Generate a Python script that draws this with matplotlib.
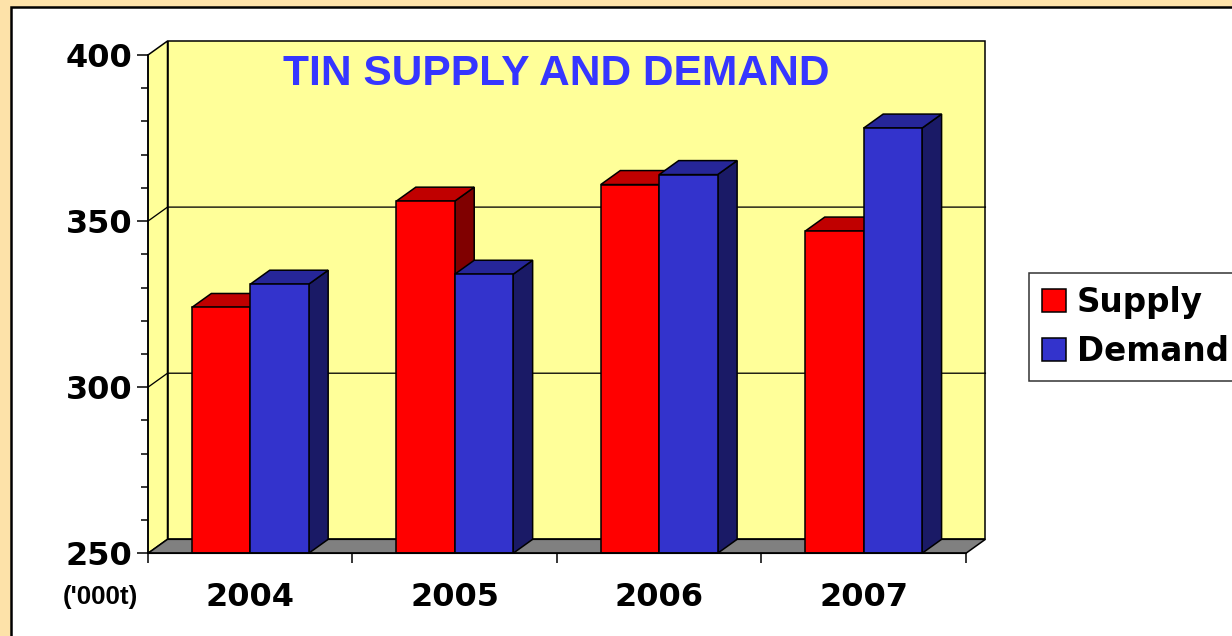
import matplotlib
matplotlib.use("Agg")
import matplotlib.pyplot as plt
from matplotlib.patches import Polygon, Rectangle, Patch
from matplotlib.ticker import FixedLocator, NullFormatter

# Data ('000 tonnes)
years = ["2004", "2005", "2006", "2007"]
supply = [324, 356, 361, 347]
demand = [331, 334, 364, 378]
y_ticks = [250, 300, 350, 400]
grid_values = [300, 350]

# Styling
W, H, DPI = 1232, 636, 100
BG_OUTER = "#FDE2A9"
WALL = "#FFFF99"
FLOOR = "#808080"
series_colors = {
    "Supply": ("#FF0000", "#C00000", "#800000"),
    "Demand": ("#3333CC", "#262699", "#1A1A66"),
}
YMIN, YMAX = 250, 400
DX = 0.0954          # depth offset along x (category units)
DY = 4.21            # depth offset along y (value units)
BAR_W = 1 / 3.5      # Excel-style 150% gap width
EDGE_LW = 1.1

fig = plt.figure(figsize=(W / DPI, H / DPI), dpi=DPI, facecolor=BG_OUTER)

# White chart panel with black border
fig.patches.append(Rectangle((11.3 / W, -0.05), 1.2, 1 - 6.5 / H + 0.05,
                             transform=fig.transFigure, facecolor="white",
                             edgecolor="black", linewidth=1.8, zorder=-10))

n = len(years)
ax = fig.add_axes([148 / W, (H - 553.3) / H, 837.4 / W, 512.3 / H])
ax.set_zorder(1)
ax.set_facecolor("none")
ax.set_xlim(0, n + DX)
ax.set_ylim(YMIN, YMAX + DY)


def face(points, color, z):
    ax.add_patch(Polygon(points, closed=True, facecolor=color, edgecolor="black",
                         lw=EDGE_LW, zorder=z, clip_on=False, joinstyle="miter"))


# Walls and floor
face([(DX, YMIN + DY), (n + DX, YMIN + DY), (n + DX, YMAX + DY), (DX, YMAX + DY)], WALL, 1)
face([(0, YMIN), (DX, YMIN + DY), (DX, YMAX + DY), (0, YMAX)], WALL, 1)
face([(0, YMIN), (n, YMIN), (n + DX, YMIN + DY), (DX, YMIN + DY)], FLOOR, 1.5)

# Gridlines on the back wall and side wall
for g in grid_values:
    ax.plot([0, DX, n + DX], [g, g + DY, g + DY], color="black", lw=EDGE_LW * 0.85,
            zorder=1.2, clip_on=False)


def bar3d(x0, value, colors, z):
    front, top, side = colors
    face([(x0 + BAR_W, YMIN), (x0 + BAR_W + DX, YMIN + DY),
          (x0 + BAR_W + DX, value + DY), (x0 + BAR_W, value)], side, z)
    face([(x0, value), (x0 + BAR_W, value),
          (x0 + BAR_W + DX, value + DY), (x0 + DX, value + DY)], top, z)
    ax.bar([x0], [value - YMIN], bottom=YMIN, width=BAR_W, align="edge",
           color=front, edgecolor="black", linewidth=EDGE_LW, zorder=z + 0.1)


z = 2
for i in range(n):
    x_s = i + 0.75 * BAR_W
    bar3d(x_s, supply[i], series_colors["Supply"], z)
    z += 0.2
    bar3d(x_s + BAR_W, demand[i], series_colors["Demand"], z)
    z += 0.2

# Axes: left value axis and bottom category axis
for s in ("top", "right"):
    ax.spines[s].set_visible(False)
ax.spines["left"].set_bounds(YMIN, YMAX)
ax.spines["bottom"].set_bounds(0, n)
for s in ("left", "bottom"):
    ax.spines[s].set_linewidth(EDGE_LW)
    ax.spines[s].set_zorder(10)

ax.yaxis.set_major_locator(FixedLocator(y_ticks))
ax.yaxis.set_minor_locator(FixedLocator([v for v in range(YMIN, YMAX + 1, 10) if v not in y_ticks]))
ax.tick_params(axis="y", which="major", direction="out", length=8, width=EDGE_LW, pad=3,
               labelsize=23)
ax.tick_params(axis="y", which="minor", direction="out", length=5, width=EDGE_LW)
for lab in ax.get_yticklabels():
    lab.set_fontweight("bold")
    lab.set_family("DejaVu Sans")

ax.xaxis.set_major_locator(FixedLocator(list(range(n + 1))))
ax.xaxis.set_major_formatter(NullFormatter())
ax.xaxis.set_minor_locator(FixedLocator([i + 0.5 for i in range(n)]))
ax.set_xticklabels(years, minor=True)
ax.tick_params(axis="x", which="major", direction="out", length=7, width=EDGE_LW)
ax.tick_params(axis="x", which="minor", length=0, pad=21, labelsize=23)
for lab in ax.get_xticklabels(minor=True):
    lab.set_fontweight("bold")
    lab.set_family("DejaVu Sans")

# Unit label and title
fig.text(138 / W, 1 - 597 / H, "('000t)", ha="right", va="center",
         fontsize=18.6, fontweight="bold", family="Liberation Sans")
fig.text(556 / W, 1 - 85 / H, "TIN SUPPLY AND DEMAND", ha="center", va="baseline",
         fontsize=30.6, fontweight="bold", family="Liberation Sans", color="#3636FF")

# Legend
handles = [Patch(facecolor=series_colors[k][0], edgecolor="black", linewidth=EDGE_LW)
           for k in ("Supply", "Demand")]
leg = fig.legend(handles, ["Supply", "Demand"], loc="upper left",
                 bbox_to_anchor=(1029 / W, 1 - 272.7 / H), bbox_transform=fig.transFigure,
                 prop={"family": "DejaVu Sans", "weight": "bold", "size": 23.5},
                 handlelength=0.72, handleheight=0.72, handletextpad=0.35,
                 labelspacing=0.5, borderpad=0.4, borderaxespad=0,
                 fancybox=False, frameon=True)
leg.get_frame().set_edgecolor("black")
leg.get_frame().set_linewidth(EDGE_LW)
leg.get_frame().set_facecolor("white")

fig.savefig("out.png", dpi=DPI, facecolor=fig.get_facecolor())
